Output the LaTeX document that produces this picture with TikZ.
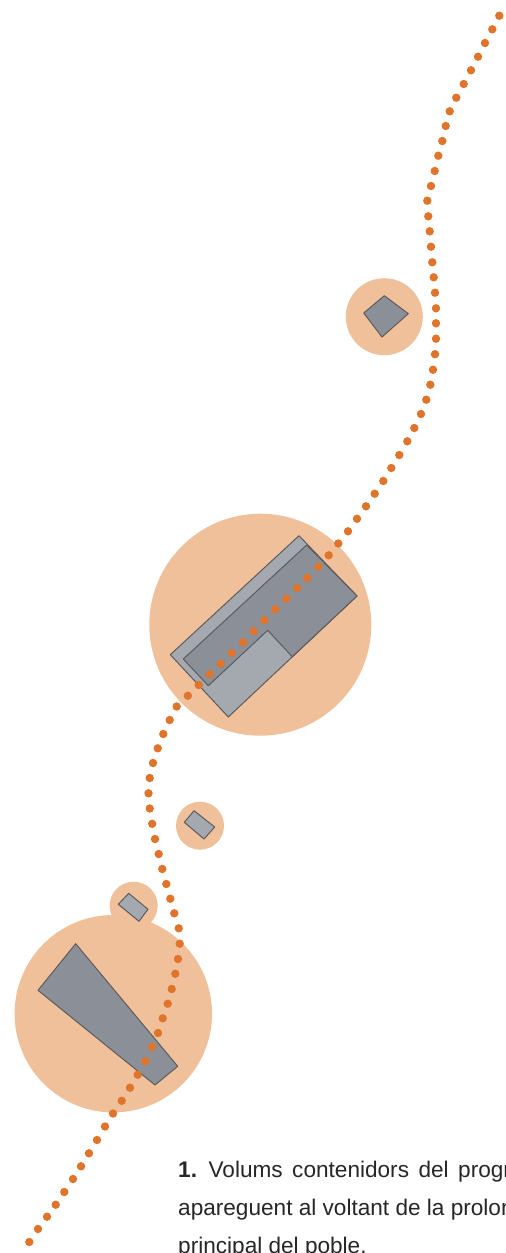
\documentclass[tikz,border=0pt]{standalone}
\usepackage{fontspec}
\setmainfont{Liberation Sans}
\definecolor{AreaOrange}{HTML}{F0C09A}
\definecolor{RouteOrange}{HTML}{DF742A}
\definecolor{VolumeDark}{HTML}{8A8F98}
\definecolor{VolumeLight}{HTML}{A4A8AF}
\definecolor{VolumeEdge}{HTML}{5C5C5E}
\definecolor{CaptionInk}{HTML}{262626}
\usetikzlibrary{positioning}

\begin{document}
\begin{tikzpicture}[
    x=1pt,y=-1pt,
    area/.style={fill=AreaOrange},
    volumedark/.style={fill=VolumeDark,draw=VolumeEdge,line width=1pt,line join=round},
    volumelight/.style={fill=VolumeLight,draw=VolumeEdge,line width=1pt,line join=round},
    routedot/.style={fill=RouteOrange},
    caption/.style={anchor=base west,inner sep=0pt,text=CaptionInk,font=\fontsize{22.6}{26}\selectfont}
  ]
    \useasboundingbox (0,0) rectangle (506,1253);
    \clip (0,0) rectangle (506,1253);

    \fill[area] (384.3,316.7) circle[radius=38.5pt];
    \fill[area] (260.3,624.7) circle[radius=111pt];
    \fill[area] (200,825.7) circle[radius=24pt];
    \fill[area] (133.7,905.7) circle[radius=24pt];
    \fill[area] (113.3,1013.7) circle[radius=98.7pt];

    \draw[volumedark] (384.3,295.7) -- (408.3,313.7) -- (382,337) -- (363.7,313) -- cycle;
    \draw[volumelight] (170.3,654.7) -- (299,535.7) -- (357,596) -- (228.3,717) -- cycle;
    \draw[volumedark] (183.3,659) -- (306.7,545) -- (357,596) -- (292.3,656.7) -- (267.7,630.3) -- (208.3,685.7) -- cycle;
    \draw[volumelight] (194,810.7) -- (214.7,827) -- (204,839) -- (184.3,822.3) -- cycle;
    \draw[volumelight] (128.7,893.3) -- (148,909.3) -- (139,921.3) -- (118.3,904.3) -- cycle;
    \draw[volumedark] (75.7,943.7) -- (177.7,1066.3) -- (155,1085) -- (38,990.3) -- cycle;

    \foreach \px/\py in {
      499.3/15.7,492.3/29.3,485/43,478/56.7,471/70.3,463.7/84,456.3/97.7,449.7/111.3,
      445.7/126,442.3/141,438.3/155.7,434.7/171,431/186,427.3/200.7,428.3/216.3,
      429.7/231.3,431/246.7,432.3/262.3,433.7/277.3,435/292.7,436/308.3,436/323.3,
      436/338.7,435/354.2,433/369.7,430.3/384.7,426.3/399.7,421/414,414.3/428,
      407.3/441.3,399.3/455,391.3/468,383.3/481,374.7/493.7,366/506.3,357/518.8,
      348/531.3,338.3/543.5,328.7/555.3,318.3/566.7,307.3/578,297/588,286.3/598.7,
      275.3/609.3,264.3/620.3,253.7/631,243/642.3,231.7/653,220.7/663.7,209.7/674.3,
      198.7/685,187.8/695.7,176.7/706.5,169.7/720,163.3/734,157.7/748.3,153/763,
      149.7/778,148.5/793.3,149.7/808.5,152.2/823.8,155/839,158.7/854,162.3/869,
      166.3/884,170.3/898.7,174.3/913.3,178.7/928.3,179.7/943.7,178/959,175.3/973.7,
      171.7/989,167.7/1003.7,162.7/1018.3,158/1033,152/1047,145.3/1061.3,137.7/1074.7,
      130/1087.7,121.7/1100.8,113/1113.5,105/1126.5,97/1140,89/1153.3,81/1166.3,
      73/1179,64.3/1192,55.7/1204.7,47/1216.7,38/1229,29.3/1242
    }
      \fill[routedot] (\px,\py) circle[radius=4.2pt];

    \node[caption] (line one) at (178,1177.5) {\spaceskip=9.5pt plus 0pt\textbf{1.} Volums contenidors del progr};
    \node[caption] (line two) at (178,1215.5) {apareguent al voltant de la prolon};
    \node[caption] (line three) at (178,1253.5) {principal del poble.};
  \end{tikzpicture}
\end{document}
